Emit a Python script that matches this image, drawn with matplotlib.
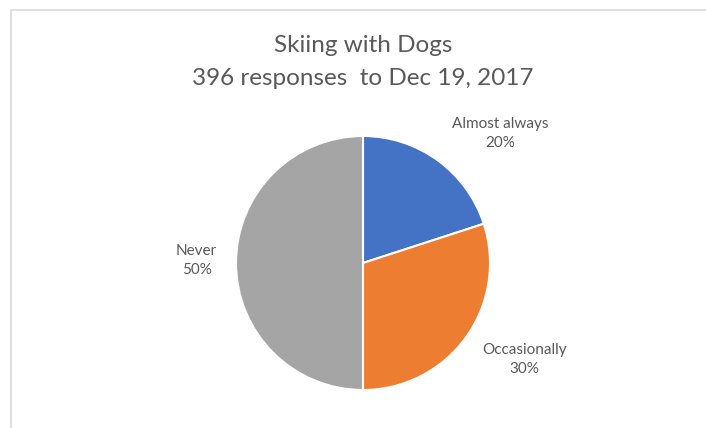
import matplotlib
matplotlib.use("Agg")
import matplotlib.pyplot as plt
from matplotlib.patches import Rectangle

categories = ["Almost always", "Occasionally", "Never"]
shares = [20, 30, 50]
colors = ["#4472C4", "#ED7D31", "#A5A5A5"]
title = "Skiing with Dogs\n396 responses  to Dec 19, 2017"

plt.rcParams['font.family'] = ['Lato', 'DejaVu Sans']

fig = plt.figure(figsize=(7.06, 4.28), dpi=100)
fig.patch.set_facecolor("white")

# chart-area frame (light grey, runs off the right and bottom edges)
fig.patches.append(Rectangle((11 / 706, -0.1), 1.2, 1 - 10 / 428 + 0.1,
                             transform=fig.transFigure, fill=False,
                             edgecolor="#D9D9D9", linewidth=1.2))

cx, cy, r = 363 / 706, 1 - 263 / 428, 127
ax = fig.add_axes([cx - r / 706, cy - r / 428, 2 * r / 706, 2 * r / 428])
ax.pie(shares, colors=colors, startangle=90, counterclock=False,
       wedgeprops=dict(edgecolor="white", linewidth=1.5))
ax.set_xlim(-1, 1)
ax.set_ylim(-1, 1)
ax.set_aspect("equal")
ax.axis("off")

label_pos = [(1.08, 1.02), (1.27, -0.76), (-1.31, 0.02)]
for name, val, (x, y) in zip(categories, shares, label_pos):
    ax.text(x, y, f"{name}\n{val}%", ha="center", va="center",
            fontsize=11, color="#595959", linespacing=1.45)

fig.text(363 / 706, 1 - 62 / 428, title, ha="center", va="center",
         fontsize=17.5, color="#595959", linespacing=1.7)

fig.savefig("out.png", dpi=100)
